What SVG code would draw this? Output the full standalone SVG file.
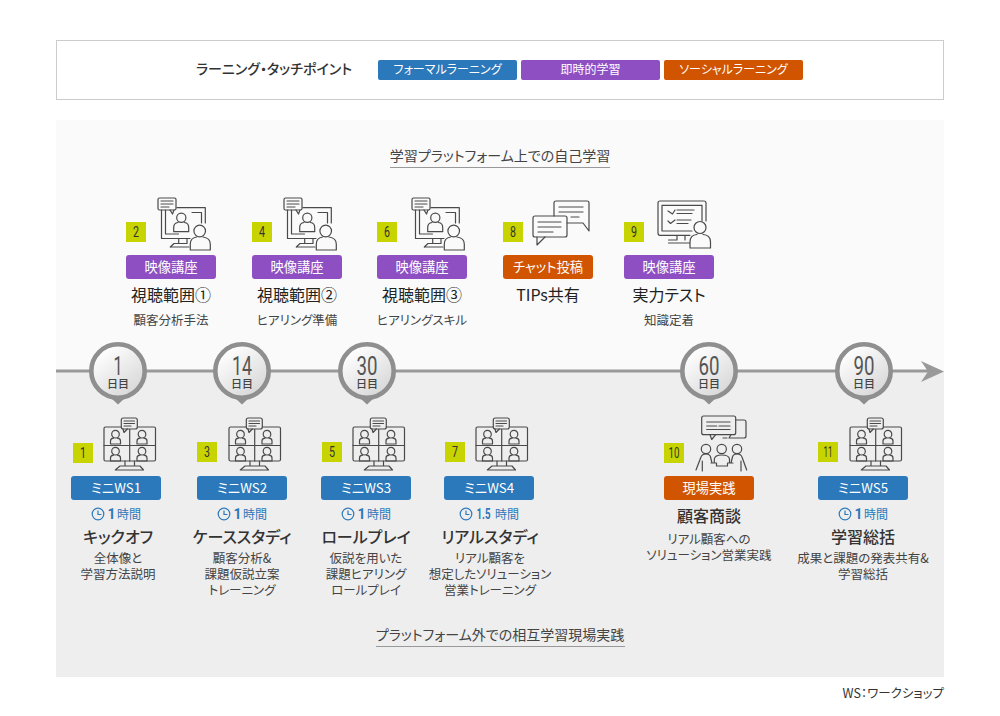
<svg xmlns="http://www.w3.org/2000/svg" width="1000" height="716" viewBox="0 0 1000 716">
<style>
text{font-family:"Noto Sans CJK JP","Noto Sans",sans-serif;fill:#333;text-anchor:middle;font-feature-settings:"palt"}
.ic{fill:none;stroke:#4a4a4a;stroke-width:1.2;stroke-linejoin:round;stroke-linecap:round}
.bl{fill:#2b78bb}.pu{fill:#8e4fc3}.or{fill:#d15400}
.pt{fill:#fff;font-size:13.300px}
.lp{fill:#fff;font-size:12px}
.sq{fill:#c8d400}
.n{font-family:"Roboto",sans-serif;font-size:14px;fill:#333}
.h{font-size:16px;font-weight:400;fill:#222}
.hb{font-size:16px;font-weight:500}
.s{font-size:12.500px;fill:#444}
.t{font-size:12px;fill:#2b78bb;text-anchor:start}
.tn{font-family:"Roboto",sans-serif;font-size:14px;font-weight:700;fill:#2b78bb;text-anchor:start}
.d{font-family:"Roboto",sans-serif;font-size:25px;fill:#555}
.dd{font-size:11px;font-weight:500;fill:#444}
.ck{fill:none;stroke:#2b78bb;stroke-width:1.2}
.pin{fill:url(#pg);stroke:#8f8f8f;stroke-width:4.600}
.pint{fill:#8f8f8f}
</style>
<defs>
<linearGradient id="pg" x1="0.2" y1="0.1" x2="0.8" y2="0.9"><stop offset="0" stop-color="#fff"/><stop offset="1" stop-color="#d8d8d8"/></linearGradient>
<g id="person"><circle cx="0" cy="-5.300" r="3.800"/><path d="M-5 4.500V1.500Q-5-1-2-1.300M5 4.500V1.500Q5-1 2-1.300M-5 4.500H5"/></g>
<g id="iconA" class="ic">
<rect x="38" y="8" width="18" height="12" rx="1.500"/>
<path d="M50 20L52.500 24L54 20M41 11H53M41 14H53M41 17H49"/>
<path d="M41.500 20V48.500H70M45.500 20V44H58.500M57 17.700H85.300V33M72 22.500H81.500V33"/>
<path d="M58.700 48.500V53.500M67 48.500V53.500M50.300 57L54 53.500H67M50.300 57H69"/>
<circle cx="61.300" cy="27.700" r="4.600"/><path d="M53.700 41.700V37.500Q53.700 33 58 32.500M68.700 41.700V37.500Q68.700 33 64.500 32.500M53.700 41.700H68.700"/>
<circle cx="79.700" cy="41" r="5.800" fill="#fafafa"/><path d="M70.300 60V54Q70.300 48 76.500 47M90.300 60V54Q90.300 48 83 47M70.300 60H90.300" fill="#fafafa"/>
</g>
<g id="iconG" class="ic">
<rect x="104" y="427" width="51.500" height="34" rx="1.500"/>
<path d="M129.700 429V461M104 445.500H155.500M125 461V466M134.500 461V466M115.300 470L120 466H140L143.500 470Z"/>
<rect x="121.300" y="418" width="16" height="11" rx="2" fill="#eee"/>
<path d="M123 429L124 432.500L127.300 429M124 421H134.500M124 423.500H134.500M124 426H131"/>
<use href="#person" x="115.500" y="439.500"/><use href="#person" x="142" y="439.500"/>
<use href="#person" x="115.500" y="456.500"/><use href="#person" x="142" y="456.500"/>
</g>
<g id="clock" class="ck"><circle r="5.800"/><path d="M0-3.500V0.500H3.500"/></g>
</defs>

<rect x="56.500" y="40.500" width="887" height="59" fill="#fff" stroke="#ccc"/>
<g id="legend">
<text x="274" y="74" style="font-size:14px;font-weight:500">ラーニング・タッチポイント</text>
<rect class="bl" x="378" y="60" width="139" height="20" rx="2"/><text class="lp" x="447.500" y="74">フォーマルラーニング</text>
<rect class="pu" x="521" y="60" width="139" height="20" rx="2"/><text class="lp" x="590.500" y="74">即時的学習</text>
<rect class="or" x="664" y="60" width="139" height="20" rx="2"/><text class="lp" x="733.500" y="74">ソーシャルラーニング</text>
</g>

<rect x="56" y="120" width="888" height="251" fill="#fafafa"/>
<rect x="56" y="371" width="888" height="306" fill="#eeeeee"/>

<text x="500" y="161" style="font-size:14px;fill:#444">学習プラットフォーム上での自己学習</text>
<path d="M390 167.500H610" stroke="#999"/>
<text x="500" y="640" style="font-size:14px;fill:#444">プラットフォーム外での相互学習現場実践</text>
<path d="M376 646.500H625" stroke="#999"/>
<text x="944" y="698" style="font-size:12.500px;text-anchor:end">WS：ワークショップ</text>

<g id="connectors">
<path d="M56 371H930" stroke="#999" stroke-width="3" fill="none"/>
<path d="M921 361L944 371.500L921 382L928 371.500Z" fill="#999"/>
</g>

<g id="day1"><path class="pint" d="M111 398H125L118 404.500Z"/><circle class="pin" cx="118" cy="371" r="26.700"/><text class="d" x="118" y="375" textLength="9" lengthAdjust="spacingAndGlyphs">1</text><text class="dd" x="118" y="388">日目</text></g>
<g id="day14"><path class="pint" d="M235 398H249L242 404.500Z"/><circle class="pin" cx="242" cy="371" r="26.700"/><text class="d" x="242" y="375" textLength="20" lengthAdjust="spacingAndGlyphs">14</text><text class="dd" x="242" y="388">日目</text></g>
<g id="day30"><path class="pint" d="M360 398H374L367 404.500Z"/><circle class="pin" cx="367" cy="371" r="26.700"/><text class="d" x="367" y="375" textLength="21" lengthAdjust="spacingAndGlyphs">30</text><text class="dd" x="367" y="388">日目</text></g>
<g id="day60"><path class="pint" d="M702 398H716L709 404.500Z"/><circle class="pin" cx="709" cy="371" r="26.700"/><text class="d" x="709" y="375" textLength="21" lengthAdjust="spacingAndGlyphs">60</text><text class="dd" x="709" y="388">日目</text></g>
<g id="day90"><path class="pint" d="M857 398H871L864 404.500Z"/><circle class="pin" cx="864" cy="371" r="26.700"/><text class="d" x="864" y="375" textLength="21" lengthAdjust="spacingAndGlyphs">90</text><text class="dd" x="864" y="388">日目</text></g>

<g id="node2"><use href="#iconA" x="120" y="190"/><rect class="sq" x="126" y="222" width="20" height="20"/><text class="n" x="136" y="237" textLength="6" lengthAdjust="spacingAndGlyphs">2</text><rect class="pu" x="126" y="255" width="90" height="24" rx="3"/><text class="pt" x="171" y="272">映像講座</text><text class="h" x="171" y="301">視聴範囲①</text><text class="s" x="171" y="325">顧客分析手法</text></g>
<g id="node4"><use href="#iconA" x="246" y="190"/><rect class="sq" x="252" y="222" width="20" height="20"/><text class="n" x="262" y="237" textLength="6" lengthAdjust="spacingAndGlyphs">4</text><rect class="pu" x="252" y="255" width="90" height="24" rx="3"/><text class="pt" x="297" y="272">映像講座</text><text class="h" x="297" y="301">視聴範囲②</text><text class="s" x="297" y="325">ヒアリング準備</text></g>
<g id="node6"><use href="#iconA" x="374" y="190"/><rect class="sq" x="377" y="222" width="20" height="20"/><text class="n" x="387" y="237" textLength="6" lengthAdjust="spacingAndGlyphs">6</text><rect class="pu" x="377" y="255" width="90" height="24" rx="3"/><text class="pt" x="422" y="272">映像講座</text><text class="h" x="422" y="301">視聴範囲③</text><text class="s" x="422" y="325">ヒアリングスキル</text></g>
<g id="node8"><g class="ic"><path d="M554 216V203Q554 201 556 201H587Q589 201 589 203V221V231L583 223H567M559 207H583M559 212H583M571 217H579"/><rect x="533" y="216" width="34" height="21" rx="2"/><path d="M537 237V245L545 237M538 222H561M538 227H561M538 232H553"/></g><rect class="sq" x="503" y="222" width="20" height="20"/><text class="n" x="513" y="237" textLength="6" lengthAdjust="spacingAndGlyphs">8</text><rect class="or" x="503" y="255" width="90" height="24" rx="3"/><text class="pt" x="548" y="272">チャット投稿</text><text class="h" x="548" y="301">TIPs共有</text></g>
<g id="node9"><g class="ic"><path d="M690 235.300H660Q658 235.300 658 233V203Q658 201 660 201H704Q706 201 706 203V221M692 231H662V205.300H702V221M677 235.300V240M685 235.300V240M668.500 240H677M668.500 243H690"/><path d="M668 211L672.500 214L675 210M677 210H694M677 213.500H692M668 221L670.500 223.500L675 220M677 220H691M677 223.500H688"/><circle cx="700" cy="227.500" r="6" fill="#fafafa"/><path d="M690 248V242Q690 235 697 234.500M710.500 248V242Q710.500 235 703 234.500M690 248H710.500" fill="#fafafa"/></g><rect class="sq" x="624" y="222" width="20" height="20"/><text class="n" x="634" y="237" textLength="6" lengthAdjust="spacingAndGlyphs">9</text><rect class="pu" x="624" y="255" width="90" height="24" rx="3"/><text class="pt" x="669" y="272">映像講座</text><text class="h" x="669" y="301">実力テスト</text><text class="s" x="669" y="325">知識定着</text></g>

<g id="node1"><use href="#iconG"/><rect class="sq" x="73" y="443" width="20" height="20"/><text class="n" x="83" y="458" textLength="6" lengthAdjust="spacingAndGlyphs">1</text><rect class="bl" x="71" y="476" width="90" height="24" rx="3"/><text class="pt" x="116" y="493">ミニWS1</text><use href="#clock" x="98" y="514"/><text class="tn" x="107.500" y="519">1</text><text class="t" x="117" y="519">時間</text><text class="hb" x="118" y="543">キックオフ</text><text class="s" x="118" y="563">全体像と</text><text class="s" x="118" y="579">学習方法説明</text></g>
<g id="node3"><use href="#iconG" x="125"/><rect class="sq" x="197" y="442" width="20" height="20"/><text class="n" x="207" y="457" textLength="6" lengthAdjust="spacingAndGlyphs">3</text><rect class="bl" x="197" y="476" width="90" height="24" rx="3"/><text class="pt" x="242" y="493">ミニWS2</text><use href="#clock" x="224" y="514"/><text class="tn" x="233.500" y="519">1</text><text class="t" x="243" y="519">時間</text><text class="hb" x="242" y="543">ケーススタディ</text><text class="s" x="242" y="563">顧客分析&amp;</text><text class="s" x="242" y="579">課題仮説立案</text><text class="s" x="242" y="595">トレーニング</text></g>
<g id="node5"><use href="#iconG" x="249"/><rect class="sq" x="322" y="442" width="20" height="20"/><text class="n" x="332" y="457" textLength="6" lengthAdjust="spacingAndGlyphs">5</text><rect class="bl" x="321" y="476" width="90" height="24" rx="3"/><text class="pt" x="366" y="493">ミニWS3</text><use href="#clock" x="348" y="514"/><text class="tn" x="357.500" y="519">1</text><text class="t" x="367" y="519">時間</text><text class="hb" x="366" y="543">ロールプレイ</text><text class="s" x="366" y="563">仮説を用いた</text><text class="s" x="366" y="579">課題ヒアリング</text><text class="s" x="366" y="595">ロールプレイ</text></g>
<g id="node7"><use href="#iconG" x="372"/><rect class="sq" x="445" y="442" width="20" height="20"/><text class="n" x="455" y="457" textLength="6" lengthAdjust="spacingAndGlyphs">7</text><rect class="bl" x="444" y="476" width="90" height="24" rx="3"/><text class="pt" x="489" y="493">ミニWS4</text><use href="#clock" x="466" y="514"/><text class="tn" x="476.500" y="519" textLength="14" lengthAdjust="spacingAndGlyphs">1.5</text><text class="t" x="495" y="519">時間</text><text class="hb" x="490" y="543">リアルスタディ</text><text class="s" x="490" y="563">リアル顧客を</text><text class="s" x="490" y="579">想定したソリューション</text><text class="s" x="490" y="595">営業トレーニング</text></g>
<g id="node10"><g class="ic"><path d="M735.700 420H744Q746 420 746 422V436Q746 438 744 438H729L731 434.700M727 438H723"/><rect x="701.700" y="416" width="34" height="18.700" rx="2"/><path d="M710 434.700L711.700 439.500L715.700 434.700M706.700 422H730M706.700 426H716.700M719 426H730M706.700 429.500H730"/><circle cx="706" cy="449" r="4.700"/><circle cx="721.700" cy="449" r="4.700"/><circle cx="737" cy="449" r="4.700"/><path d="M696 470L701 457Q702 454 706 454Q710 454 710.500 457L712 463M746.700 470L742 457Q741 454 737 454Q733 454 732.500 457L731 463M702.300 461V471M741 461V471M714.300 463V459Q715 455 721.700 455Q729 455 729.500 459V463M711 463H716.500M727.500 463H733M716.500 463V466H727.500V463"/></g><rect class="sq" x="664" y="443" width="20" height="20"/><text class="n" x="674" y="458" textLength="11" lengthAdjust="spacingAndGlyphs">10</text><rect class="or" x="664" y="476" width="90" height="24" rx="3"/><text class="pt" x="709" y="493">現場実践</text><text class="hb" x="709" y="522">顧客商談</text><text class="s" x="709" y="544">リアル顧客への</text><text class="s" x="709" y="560">ソリューション営業実践</text></g>
<g id="node11"><use href="#iconG" x="746"/><rect class="sq" x="818" y="442" width="20" height="20"/><text class="n" x="828" y="457" textLength="9" lengthAdjust="spacingAndGlyphs">11</text><rect class="bl" x="818" y="476" width="90" height="24" rx="3"/><text class="pt" x="863" y="493">ミニWS5</text><use href="#clock" x="845" y="514"/><text class="tn" x="854.500" y="519">1</text><text class="t" x="864" y="519">時間</text><text class="hb" x="863" y="543">学習総括</text><text class="s" x="863" y="563">成果と課題の発表共有&amp;</text><text class="s" x="863" y="579">学習総括</text></g>
</svg>
